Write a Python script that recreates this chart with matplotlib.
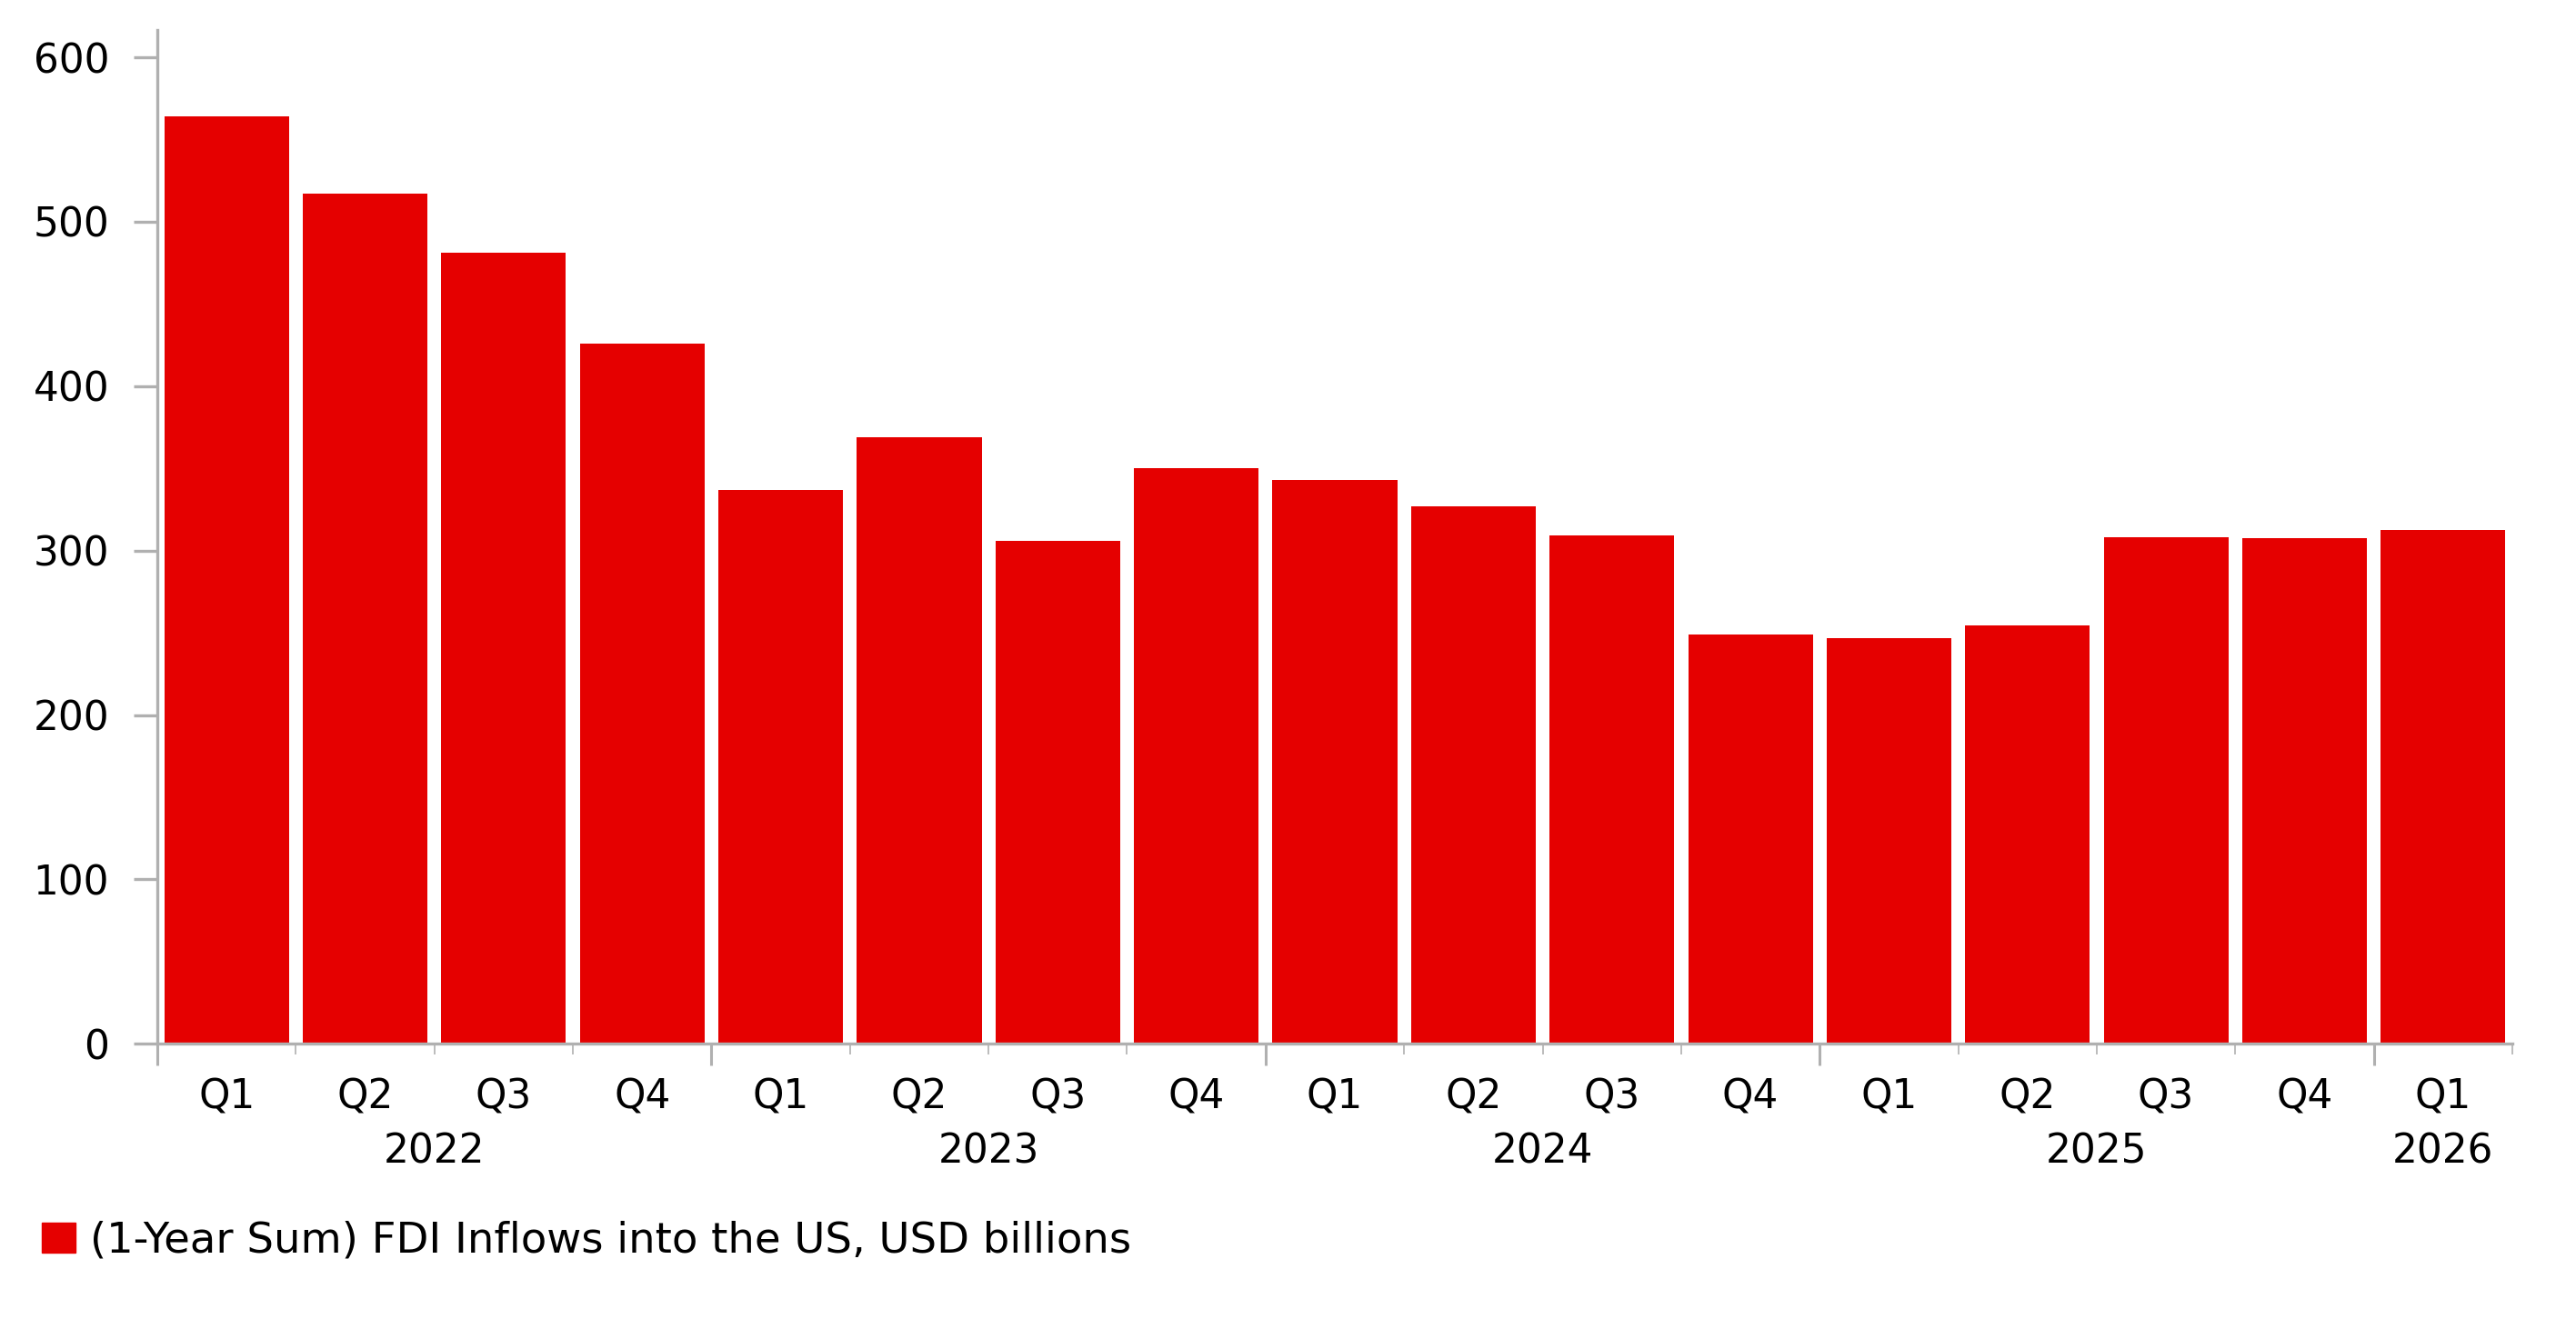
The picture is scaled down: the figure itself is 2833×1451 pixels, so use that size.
import numpy as np
import matplotlib
matplotlib.use('Agg')
import matplotlib.pyplot as plt
from matplotlib.patches import Patch

plt.rcParams['font.family'] = ['DejaVu Sans']

quarters = ["Q1", "Q2", "Q3", "Q4", "Q1", "Q2", "Q3", "Q4", "Q1", "Q2", "Q3", "Q4",
            "Q1", "Q2", "Q3", "Q4", "Q1"]
years = ["2022", "2023", "2024", "2025", "2026"]
year_counts = [4, 4, 4, 4, 1]
fdi_inflows = [564, 517, 481, 426, 337, 369, 306, 350, 343, 327, 309, 249,
               247, 254.5, 308, 307.5, 312.5]
series_name = "(1-Year Sum) FDI Inflows into the US, USD billions"

RED = "#e50000"
GRAY = "#b0b0b0"
FS = 31.5

fig = plt.figure(figsize=(28.33, 14.51), dpi=100)
ax = fig.add_axes([173 / 2833, 1 - 1148.3 / 1451, (2763 - 173) / 2833, (1148.3 - 33) / 1451])

x = np.arange(len(fdi_inflows))
ax.bar(x, fdi_inflows, width=0.9, color=RED, zorder=2)

ax.set_xlim(-0.5, len(x) - 0.5)
ax.set_ylim(0, 616.6)

for s in ["top", "right"]:
    ax.spines[s].set_visible(False)
for s in ["left", "bottom"]:
    ax.spines[s].set_color(GRAY)
    ax.spines[s].set_linewidth(2.4)

# y axis
ax.set_yticks(np.arange(0, 601, 100))
ax.tick_params(axis="y", length=19, width=2.4, color=GRAY, pad=19, labelsize=FS)

# x axis: short ticks at each quarter boundary, long ones at year boundaries
bounds = np.arange(len(x) + 1) - 0.5
year_bounds = np.concatenate([[0], np.cumsum(year_counts)])[:-1] - 0.5
ax.set_xticks(year_bounds)
ax.set_xticklabels([])
ax.set_xticks(bounds, minor=True)
ax.tick_params(axis="x", which="major", length=17, width=2.2, color=GRAY)
ax.tick_params(axis="x", which="minor", length=8.5, width=1.2, color=GRAY)

for i, q in enumerate(quarters):
    ax.annotate(q, xy=(i, 0), xycoords=("data", "axes fraction"),
                xytext=(0, -42.5), textcoords="offset points",
                ha="center", va="center", fontsize=FS)

start = 0
for yr, n in zip(years, year_counts):
    center = start + (n - 1) / 2
    ax.annotate(yr, xy=(center, 0), xycoords=("data", "axes fraction"),
                xytext=(0, -85.5), textcoords="offset points",
                ha="center", va="center", fontsize=FS)
    start += n

fig.legend(handles=[Patch(color=RED, label=series_name)],
           loc="center left", bbox_to_anchor=(46 / 2833, 1 - 1365 / 1451),
           frameon=False, fontsize=33.5, handlelength=0.8, handleheight=0.72,
           handletextpad=0.33, borderpad=0, borderaxespad=0)

fig.savefig("out.png", dpi=100)
